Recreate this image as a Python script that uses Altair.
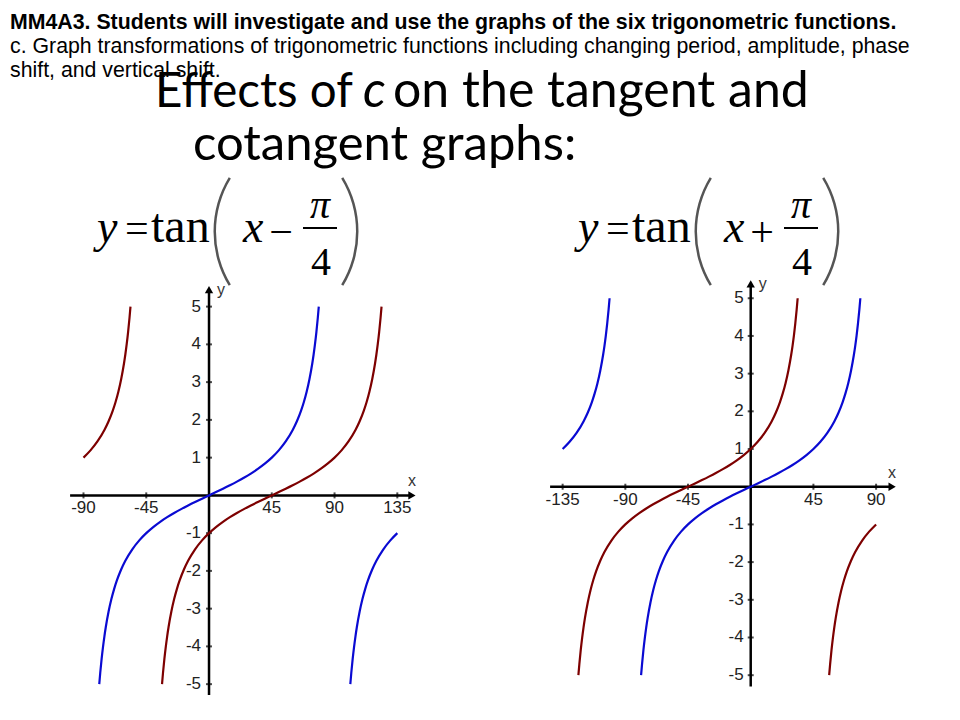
import altair as alt
import pandas as pd

# ---------------- text content ----------------
header_bold = "MM4A3. Students will investigate and use the graphs of the six trigonometric functions."
header_lines = [
    "c. Graph transformations of trigonometric functions including changing period, amplitude, phase",
    "shift, and vertical shift.",
]
title_a = "Effects of"
title_c = "c"
title_b = "on the tangent and"
title_2 = "cotangent graphs:"

# ---------------- curve table: angle offset u (deg) and tan(u) ----------------
u_deg = [-78.69, -78, -77, -76, -75, -74, -72, -70, -68, -66, -63, -60, -55, -50, -45,
         -40, -35, -30, -25, -20, -15, -10, -5, 0, 5, 10, 15, 20, 25, 30, 35, 40, 45,
         50, 55, 60, 63, 66, 68, 70, 72, 74, 75, 76, 77, 78, 78.69]
tan_u = [-5.0, -4.705, -4.331, -4.011, -3.732, -3.487, -3.078, -2.747, -2.475, -2.246,
         -1.963, -1.732, -1.428, -1.192, -1.0, -0.839, -0.700, -0.577, -0.466, -0.364,
         -0.268, -0.176, -0.087, 0.0, 0.087, 0.176, 0.268, 0.364, 0.466, 0.577, 0.700,
         0.839, 1.0, 1.192, 1.428, 1.732, 1.963, 2.246, 2.475, 2.747, 3.078, 3.487,
         3.732, 4.011, 4.331, 4.705, 5.0]

# branches: (panel, function, branch centre in degrees, u-min, u-max)
branches = [
    ("L", "tan", 0, -79, 79),
    ("L", "tan", 180, -79, -45),
    ("L", "shift", 45, -79, 79),
    ("L", "shift", -135, 45, 79),
    ("R", "tan", 0, -79, 79),
    ("R", "tan", -180, 45, 79),
    ("R", "shift", -45, -79, 79),
    ("R", "shift", 135, -79, -45),
]

x_ticks_left = [-90, -45, 45, 90, 135]
x_ticks_right = [-135, -90, -45, 45, 90]
y_ticks = [-5, -4, -3, -2, -1, 1, 2, 3, 4, 5]

rows = []
for i, (panel, fn, c, lo, hi) in enumerate(branches):
    for u, t in zip(u_deg, tan_u):
        if lo <= u <= hi:
            rows.append({"panel": panel, "fn": fn, "branch": f"b{i}", "x": c + u, "y": t})
curves = pd.DataFrame(rows)

BLUE = "#0a0ad2"
RED = "#7d0000"
LABEL_FONT = "Liberation Sans"

color_scale = alt.Scale(domain=["tan", "shift"], range=[BLUE, RED])


def panel(panel_id, xdom, xrng, ydom, yrng, xticks, x_arrow, y_arrow, xlab_dy, ylab_dx):
    xs = alt.Scale(domain=xdom, range=xrng, nice=False, zero=False)
    ys = alt.Scale(domain=ydom, range=yrng, nice=False, zero=False)
    one = pd.DataFrame({"k": [0]})

    def X(v):
        return alt.X(datum=v, type="quantitative", scale=xs, axis=None)

    def Y(v):
        return alt.Y(datum=v, type="quantitative", scale=ys, axis=None)

    xaxis = alt.Chart(one).mark_rule(strokeWidth=2.5, color="black").encode(
        x=X(xdom[0]), x2=alt.X2(datum=x_arrow), y=Y(0))
    yaxis = alt.Chart(one).mark_rule(strokeWidth=2.5, color="black").encode(
        y=Y(ydom[0]), y2=alt.Y2(datum=y_arrow), x=X(0))
    xarrow = alt.Chart(one).mark_point(shape="triangle-right", filled=True, size=70,
                                       color="black", opacity=1).encode(x=X(x_arrow), y=Y(0))
    yarrow = alt.Chart(one).mark_point(shape="triangle-up", filled=True, size=70,
                                       color="black", opacity=1).encode(x=X(0), y=Y(y_arrow))

    xt = pd.DataFrame({"v": xticks, "lab": [str(v) for v in xticks]})
    yt = pd.DataFrame({"v": y_ticks, "lab": [str(v) for v in y_ticks]})
    xtick = alt.Chart(xt).mark_tick(orient="vertical", size=6, thickness=2, color="black").encode(
        x=alt.X("v:Q", scale=xs, axis=None), y=Y(0))
    ytick = alt.Chart(yt).mark_tick(orient="horizontal", size=6, thickness=2, color="black").encode(
        y=alt.Y("v:Q", scale=ys, axis=None), x=X(0))
    xlab = alt.Chart(xt).mark_text(dy=xlab_dy, align="center", baseline="middle", font=LABEL_FONT,
                                   fontSize=17, color="#222").encode(
        x=alt.X("v:Q", scale=xs, axis=None), y=Y(0), text="lab:N")
    ylab = alt.Chart(yt).mark_text(dx=ylab_dx, align="right", baseline="middle", font=LABEL_FONT,
                                   fontSize=17, color="#222").encode(
        y=alt.Y("v:Q", scale=ys, axis=None), x=X(0), text="lab:N")
    xname = alt.Chart(pd.DataFrame({"t": ["x"]})).mark_text(
        dy=-14, dx=0, align="center", baseline="middle", font=LABEL_FONT, fontSize=16,
        color="#333").encode(x=X(x_arrow), y=Y(0), text="t:N")
    yname = alt.Chart(pd.DataFrame({"t": ["y"]})).mark_text(
        dx=12, dy=0, align="center", baseline="middle", font=LABEL_FONT, fontSize=16,
        color="#333").encode(x=X(0), y=Y(y_arrow), text="t:N")

    lines = alt.Chart(curves[curves["panel"] == panel_id]).mark_line(
        strokeWidth=2.2, interpolate="monotone").encode(
        x=alt.X("x:Q", scale=xs, axis=None),
        y=alt.Y("y:Q", scale=ys, axis=None),
        color=alt.Color("fn:N", scale=color_scale, legend=None),
        detail="branch:N",
    )
    return alt.layer(xaxis, yaxis, xtick, ytick, xlab, ylab, lines, xarrow, yarrow, xname, yname)


# left: x=0 at chart px 201, 1.395 px/deg ; y=0 at 487.4, 37.75 px/unit
left = panel("L", [-99.6, 148.9], [62.1, 408.7], [-5.29, 5.57], [687.1, 277.1],
             x_ticks_left, 145.5, 5.45, 13, -8)
# right: x=0 at chart px 742.7, 1.393 px/deg ; y=0 at 478.7, 37.7 px/unit
right = panel("R", [-144, 105], [542.1, 889.0], [-5.3, 5.5], [678.5, 271.4],
              x_ticks_right, 101.5, 5.38, 13, -7)


def txt(s, x, y, size, font, weight="normal", style="normal", align="left", baseline="alphabetic",
        color="black"):
    return alt.Chart(pd.DataFrame({"t": [s]})).mark_text(
        align=align, baseline=baseline, font=font, fontSize=size, fontWeight=weight,
        fontStyle=style, color=color).encode(x=alt.value(x), y=alt.value(y), text="t:N")


def paren(cx, cy, t0, t1):
    # tall thin bracket of a formula, drawn as a thin ring segment
    return alt.Chart(pd.DataFrame({"k": [0]})).mark_arc(
        theta=t0, theta2=t1, innerRadius=102, outerRadius=104.5, color="#555").encode(
        x=alt.value(cx), y=alt.value(cy))


texts = [
    txt(header_bold, 2, 21, 21.3, LABEL_FONT, weight="bold"),
    txt(header_lines[0], 2, 45, 21.3, LABEL_FONT),
    txt(header_lines[1], 2, 69, 21.3, LABEL_FONT),
    txt(title_a, 147, 99, 47.5, "Lato"),
    txt(title_c, 355, 99, 50, "Lato", style="italic"),
    txt(title_b, 385, 99, 50, "Lato"),
    txt(title_2, 185, 152, 49, "Lato"),
]

SERIF = "Liberation Serif"
for dxo, op in [(0, "\u2212"), (481, "+")]:
    texts += [
        txt("y", 89 + dxo, 234, 46, SERIF, style="italic"),
        txt("=", 117 + dxo, 234, 42, SERIF),
        txt("tan", 143 + dxo, 234, 48, SERIF),
        paren(310 + dxo, 223.5, 4.166, 5.259),
        txt("x", 235 + dxo, 234, 46, SERIF, style="italic"),
        txt(op, 273 + dxo, 238, 42, SERIF, align="center"),
        txt("\u03c0", 312 + dxo, 210, 40, SERIF, style="italic", align="center"),
        txt("4", 313 + dxo, 267, 40, SERIF, align="center"),
        paren(246 + dxo, 223.5, 1.0245, 2.1171),
        alt.Chart(pd.DataFrame({"k": [0]})).mark_rule(strokeWidth=2, color="black").encode(
            x=alt.value(295 + dxo), x2=alt.value(329 + dxo), y=alt.value(220)),
    ]

chart = alt.layer(left, right, *texts).resolve_scale(x="independent", y="independent").properties(
    width=944, height=704, padding=0, autosize=alt.AutoSizeParams(type="none")
).configure_view(stroke=None)

chart.save("out.html", embed_options={"renderer": "svg", "actions": False})
